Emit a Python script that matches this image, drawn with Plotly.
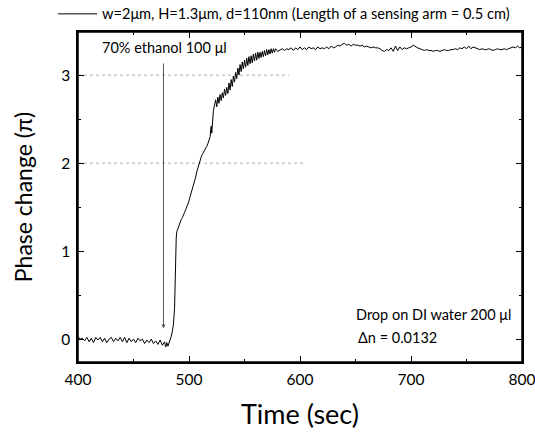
import plotly.graph_objects as go

# ---- data ----
time_s = [
    400, 402, 404, 406, 408, 410, 412, 414, 416, 418, 420, 422, 424, 426, 428, 430,
    432, 434, 436, 438, 440, 442, 444, 446, 448, 450, 452, 454, 456, 458, 460, 462,
    464, 466, 468, 470, 472, 474, 476, 478, 479, 480, 481, 482, 483, 484, 485, 486,
    487, 487.5, 488, 488.5, 489, 490, 491, 492, 493, 494, 495, 496, 497, 498, 499, 500,
    501, 502, 503, 504, 505, 506, 507, 508, 509, 510, 511, 512, 513, 514, 515, 516,
    517, 518, 519, 519.5, 520, 520.5, 521, 522, 523, 524, 525, 526, 527, 528, 529, 530,
    531, 532, 533, 534, 535, 536, 537, 538, 539, 540, 541, 542, 543, 544, 545, 546,
    547, 548, 549, 550, 551, 552, 553, 554, 555, 556, 557, 558, 559, 560, 561, 562,
    563, 564, 565, 566, 567, 568, 569, 570, 571, 572, 573, 574, 575, 576, 577, 578,
    580, 582, 584, 586, 588, 590, 592, 594, 596, 598, 600, 602, 604, 606, 608, 610,
    612, 614, 616, 618, 620, 622, 624, 626, 628, 630, 632, 634, 636, 638, 640, 642,
    644, 646, 648, 650, 652, 654, 656, 658, 660, 662, 664, 666, 668, 670, 672, 674,
    676, 678, 680, 682, 684, 686, 688, 690, 692, 694, 696, 698, 700, 702, 704, 706,
    708, 710, 712, 714, 716, 718, 720, 722, 724, 726, 728, 730, 732, 734, 736, 738,
    740, 742, 744, 746, 748, 750, 752, 754, 756, 758, 760, 762, 764, 766, 768, 770,
    772, 774, 776, 778, 780, 782, 784, 786, 788, 790, 792, 794, 796, 798, 800,
]
phase_pi = [
    0.03, 0.00, 0.01, -0.02, 0.02, -0.03, 0.01, -0.04, 0.02, -0.01, 0.02, -0.03, 0.01, -0.04, 0.00, 0.02,
    -0.03, 0.01, -0.02, 0.02, -0.03, 0.02, -0.04, 0.01, -0.03, 0.00, -0.04, 0.01, -0.02, 0.00, -0.05, -0.01,
    -0.04, 0.00, -0.05, -0.02, -0.06, -0.01, -0.07, -0.03, -0.09, -0.04, -0.08, -0.04, -0.02, 0.03, 0.09, 0.17,
    0.35, 0.70, 1.00, 1.15, 1.22, 1.26, 1.28, 1.33, 1.36, 1.38, 1.42, 1.44, 1.47, 1.50, 1.52, 1.57,
    1.62, 1.66, 1.71, 1.75, 1.80, 1.84, 1.90, 1.95, 2.00, 2.03, 2.07, 2.10, 2.12, 2.15, 2.17, 2.19,
    2.22, 2.26, 2.30, 2.38, 2.42, 2.34, 2.45, 2.60, 2.66, 2.72, 2.64, 2.75, 2.68, 2.78, 2.71, 2.80,
    2.74, 2.84, 2.77, 2.86, 2.79, 2.91, 2.83, 2.95, 2.87, 2.99, 2.92, 3.03, 2.96, 3.08, 3.00, 3.12,
    3.04, 3.15, 3.07, 3.17, 3.09, 3.19, 3.11, 3.21, 3.13, 3.22, 3.14, 3.24, 3.16, 3.25, 3.17, 3.26,
    3.19, 3.26, 3.20, 3.27, 3.21, 3.28, 3.22, 3.29, 3.23, 3.29, 3.24, 3.30, 3.25, 3.30, 3.26, 3.30,
    3.27, 3.29, 3.30, 3.28, 3.30, 3.29, 3.31, 3.28, 3.31, 3.29, 3.32, 3.29, 3.31, 3.29, 3.32, 3.30,
    3.31, 3.29, 3.32, 3.30, 3.31, 3.30, 3.32, 3.30, 3.33, 3.31, 3.32, 3.34, 3.33, 3.35, 3.36, 3.34,
    3.35, 3.33, 3.35, 3.34, 3.34, 3.33, 3.34, 3.32, 3.33, 3.32, 3.31, 3.32, 3.31, 3.31, 3.30, 3.28,
    3.27, 3.29, 3.28, 3.31, 3.27, 3.33, 3.28, 3.32, 3.29, 3.31, 3.30, 3.31, 3.32, 3.34, 3.32, 3.31,
    3.30, 3.29, 3.28, 3.29, 3.28, 3.28, 3.27, 3.28, 3.28, 3.27, 3.28, 3.29, 3.28, 3.28, 3.29, 3.29,
    3.30, 3.29, 3.31, 3.30, 3.32, 3.30, 3.33, 3.30, 3.32, 3.31, 3.30, 3.29, 3.30, 3.29, 3.29, 3.30,
    3.29, 3.28, 3.29, 3.30, 3.29, 3.29, 3.30, 3.29, 3.30, 3.31, 3.32, 3.31, 3.33, 3.31, 3.32,
]

series_name = "w=2μm, H=1.3μm, d=110nm (Length of a sensing arm = 0.5 cm)"
x_ticks = [400, 500, 600, 700, 800]
y_ticks = [0, 1, 2, 3]
grid_levels = [2, 3]
grid_end = [604, 590]
injection_time = 477
arrow_top = 3.15
arrow_tip = 0.12

FONT = "Lato, 'Open Sans', sans-serif"

fig = go.Figure()
fig.add_trace(go.Scatter(
    x=time_s, y=phase_pi, mode="lines", name=series_name,
    line=dict(color="black", width=1), showlegend=False,
))

# partial dotted guide lines (as in the reference)
for g, xe in zip(grid_levels, grid_end):
    fig.add_shape(type="line", xref="x", yref="y", x0=400, x1=xe, y0=g, y1=g,
                  line=dict(color="#b0b0b0", width=1, dash="dot"), layer="below")

# frame
fig.add_shape(type="rect", xref="paper", yref="paper", x0=0, x1=1, y0=0, y1=1,
              line=dict(color="black", width=1.5), fillcolor="rgba(0,0,0,0)", layer="above")

# legend-like header (line sample + label) above the plot
fig.add_shape(type="line", xref="paper", yref="paper", x0=-0.045, x1=0.043, y0=1.055, y1=1.055,
              line=dict(color="black", width=1))
fig.add_annotation(x=0.05, y=1.055, xref="paper", yref="paper", xanchor="left", yanchor="middle",
                   text=series_name, showarrow=False,
                   font=dict(family=FONT, size=14.6, color="black"))

# injection arrow
fig.add_annotation(x=injection_time, y=arrow_tip, ax=injection_time, ay=arrow_top,
                   xref="x", yref="y", axref="x", ayref="y", text="", showarrow=True,
                   arrowhead=2, arrowsize=0.8, arrowwidth=1, arrowcolor="#555555")
fig.add_annotation(x=0.05, y=0.985, xref="paper", yref="paper", xanchor="left", yanchor="top",
                   text="70% ethanol 100 μl", showarrow=False,
                   font=dict(family=FONT, size=14.5, color="black"))
fig.add_annotation(x=0.98, y=0.145, xref="paper", yref="paper", xanchor="right", yanchor="middle",
                   text="Drop on DI water 200 μl", showarrow=False,
                   font=dict(family=FONT, size=14.5, color="black"))
fig.add_annotation(x=0.625, y=0.075, xref="paper", yref="paper", xanchor="left", yanchor="middle",
                   text="Δn = 0.0132", showarrow=False,
                   font=dict(family=FONT, size=14.5, color="black"))

axis_common = dict(
    showline=True, linecolor="black", linewidth=1.5, mirror="ticks",
    ticks="inside", ticklen=6, tickwidth=1, tickcolor="black", showgrid=False, zeroline=False,
    automargin=False, ticklabeloverflow="allow", ticklabelstandoff=3,
    tickfont=dict(family=FONT, size=15.5, color="black"),
)
fig.update_xaxes(range=[400, 800], tickvals=x_ticks,
                 minor=dict(ticks="inside", ticklen=3, dtick=50, tick0=400, tickcolor="black"),
                 title=dict(text="Time (sec)", font=dict(family=FONT, size=27, color="black"), standoff=18),
                 **axis_common)
fig.update_yaxes(range=[-0.26, 3.49], tickvals=y_ticks,
                 minor=dict(ticks="inside", ticklen=3, dtick=0.5, tick0=0, tickcolor="black"),
                 title=dict(text="Phase change (π)", font=dict(family=FONT, size=23, color="black"), standoff=22),
                 **axis_common)

fig.update_layout(
    width=535, height=432,
    margin=dict(l=78, r=13, t=32, b=70, autoexpand=False),
    paper_bgcolor="white", plot_bgcolor="white",
    showlegend=False,
)

fig.write_html("out.html", config={"displayModeBar": False},
               post_script="document.body.style.margin='0';document.body.style.overflow='hidden';")
